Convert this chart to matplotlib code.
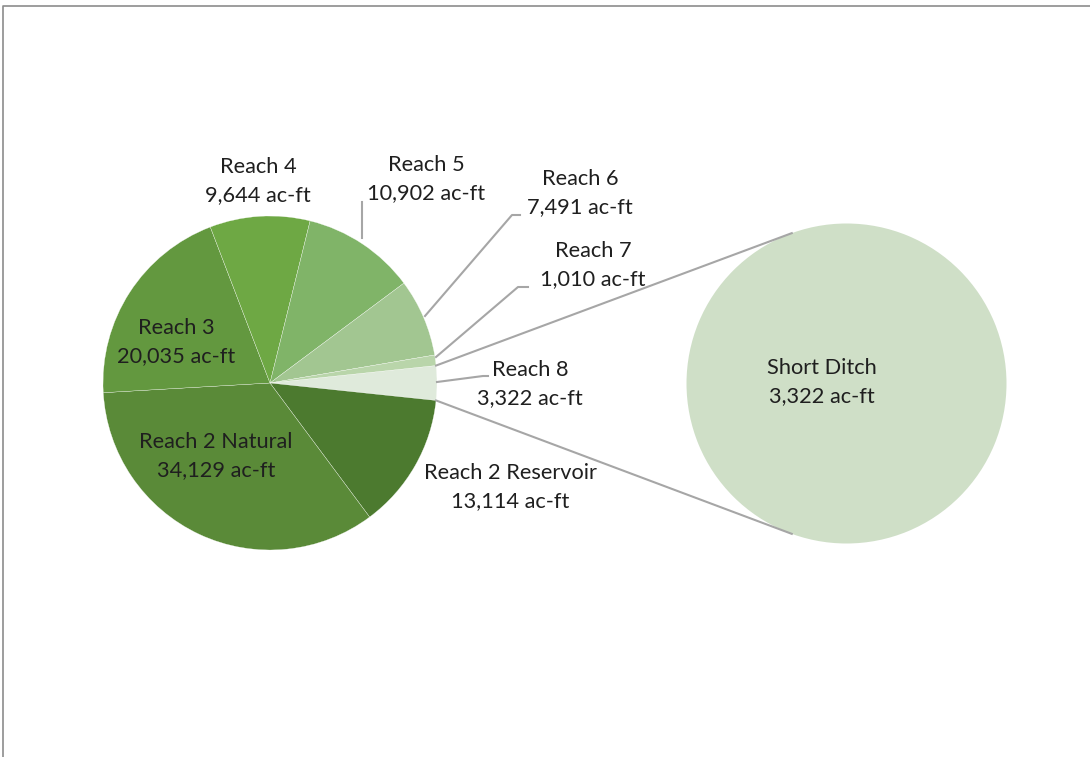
import matplotlib
matplotlib.use("Agg")
import matplotlib.pyplot as plt
import numpy as np

# data (ac-ft)
reaches = ["Reach 8", "Reach 2 Reservoir", "Reach 2 Natural", "Reach 3",
           "Reach 4", "Reach 5", "Reach 6", "Reach 7"]
volumes = [3322, 13114, 34129, 20035, 9644, 10902, 7491, 1010]
colors = ["#dfeadb", "#4c7a2f", "#5a8a38", "#63983f",
          "#6ea844", "#80b468", "#a2c691", "#b9d5aa"]
sub_names = ["Short Ditch"]
sub_volumes = [3322]
sub_colors = ["#cfdfc7"]

W, H = 1090, 757
plt.rcParams['font.family'] = ['Lato', 'DejaVu Sans']
TXT = "#1f1f1f"
LINE = "#a6a6a6"
FS = 15.7
LS = 1.5


def P(x, y):
    # pixel coords (y down) -> data coords (y up)
    return x, H - y


fig = plt.figure(figsize=(W / 100, H / 100), dpi=100)
ax = fig.add_axes([0, 0, 1, 1])

# chart border (only top and left show)
ax.plot(*zip(P(3, 757), P(3, 6), P(1090, 6)), color="#8c8c8c", lw=1.2)

# main pie
main_c = P(270, 383)
main_r = 167
ax.pie(volumes, colors=colors, center=main_c, radius=main_r,
       startangle=360 * volumes[0] / sum(volumes) / 2, counterclock=False,
       wedgeprops=dict(edgecolor="white", linewidth=0.2), frame=True)

# secondary pie
sub_c = P(846.5, 383.5)
sub_r = 160
ax.pie(sub_volumes, colors=sub_colors, center=sub_c, radius=sub_r,
       wedgeprops=dict(edgecolor="none"), frame=True)
ax.set_xlim(0, W)
ax.set_ylim(0, H)
ax.set_aspect("equal")
ax.axis("off")

# connector lines between the two pies
half = np.radians(360 * volumes[0] / sum(volumes) / 2)
for s in (1, -1):
    x0 = main_c[0] + main_r * np.cos(s * half)
    y0 = main_c[1] + main_r * np.sin(s * half)
    a = np.radians(110 if s == 1 else 250)
    x1 = sub_c[0] + sub_r * np.cos(a)
    y1 = sub_c[1] + sub_r * np.sin(a)
    ax.plot([x0, x1], [y0, y1], color=LINE, lw=1.5)

# leader lines
leaders = [
    [(362, 238), (362, 202)],
    [(425, 316), (512, 215), (520, 215)],
    [(436, 357), (518, 287), (528, 287)],
    [(437, 382), (483, 376), (488, 376)],
]
for pts in leaders:
    xs, ys = zip(*[P(*p) for p in pts])
    ax.plot(xs, ys, color=LINE, lw=1.5)

# labels
fmt = lambda n, v: f"{n}\n{v:,} ac-ft"
label_pos = {
    "Reach 8": (530, 384),
    "Reach 2 Reservoir": (510, 487),
    "Reach 2 Natural": (216, 456),
    "Reach 3": (176, 342),
    "Reach 4": (258, 181),
    "Reach 5": (426, 179),
    "Reach 6": (580, 193),
    "Reach 7": (593, 265),
}
for n, v in zip(reaches, volumes):
    x, y = P(*label_pos[n])
    ax.text(x, y, fmt(n, v), ha="center", va="center", fontsize=FS,
            color=TXT, linespacing=LS)
x, y = P(822, 382)
ax.text(x, y, fmt(sub_names[0], sub_volumes[0]), ha="center", va="center",
        fontsize=FS, color=TXT, linespacing=LS)

fig.savefig("out.png", dpi=100)
